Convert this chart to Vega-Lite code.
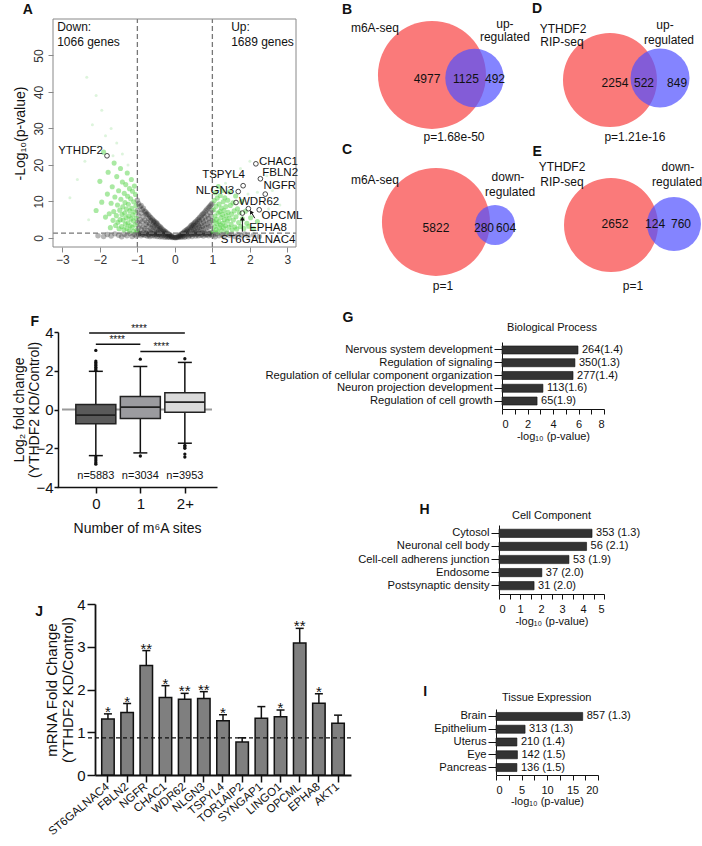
{
"$schema":"https://vega.github.io/schema/vega-lite/v6.json",
"width":702,"height":846,"autosize":{"type":"none"},"padding":0,"background":"white",
"config":{"view":{"stroke":null},"font":"Liberation Sans",
 "text":{"font":"Liberation Sans","fontSize":12,"color":"#111"},
 "axis":{"grid":false,"labelFont":"Liberation Sans","titleFont":"Liberation Sans","labelColor":"#111","titleColor":"#111","titleFontWeight":"normal","domainColor":"#111","tickColor":"#111","labelLimit":400}},
"resolve":{"scale":{"x":"independent","y":"independent","size":"independent","color":"independent"},"axis":{"x":"independent","y":"independent"}},
"datasets":{
"volcano":[
{"x":-1.0,"y":1.6,"s":"n"},{"x":-1.0,"y":4.2,"s":"n"},{"x":-1.0,"y":7.5,"s":"n"},{"x":-1.0,"y":10.3,"s":"n"},
{"x":-0.97,"y":0.9,"s":"n"},{"x":-0.97,"y":2.8,"s":"n"},{"x":-0.97,"y":6.1,"s":"n"},{"x":-0.97,"y":9.4,"s":"n"},
{"x":-0.93,"y":1.3,"s":"n"},{"x":-0.93,"y":3.6,"s":"n"},{"x":-0.93,"y":5.0,"s":"n"},{"x":-0.93,"y":8.6,"s":"n"},
{"x":-0.9,"y":0.6,"s":"n"},{"x":-0.9,"y":2.2,"s":"n"},{"x":-0.9,"y":6.8,"s":"n"},{"x":-0.9,"y":8.9,"s":"n"},
{"x":-0.87,"y":1.0,"s":"n"},{"x":-0.87,"y":4.4,"s":"n"},{"x":-0.87,"y":7.7,"s":"n"},
{"x":-0.84,"y":1.5,"s":"n"},{"x":-0.84,"y":3.0,"s":"n"},{"x":-0.84,"y":5.8,"s":"n"},{"x":-0.84,"y":8.1,"s":"n"},
{"x":-0.8,"y":0.7,"s":"n"},{"x":-0.8,"y":2.5,"s":"n"},{"x":-0.8,"y":4.9,"s":"n"},{"x":-0.8,"y":7.3,"s":"n"},
{"x":-0.77,"y":1.2,"s":"n"},{"x":-0.77,"y":3.7,"s":"n"},{"x":-0.77,"y":6.4,"s":"n"},{"x":-0.77,"y":7.0,"s":"n"},
{"x":-0.74,"y":0.5,"s":"n"},{"x":-0.74,"y":2.0,"s":"n"},{"x":-0.74,"y":4.3,"s":"n"},{"x":-0.74,"y":6.6,"s":"n"},
{"x":-0.7,"y":1.0,"s":"n"},{"x":-0.7,"y":3.1,"s":"n"},{"x":-0.7,"y":5.3,"s":"n"},{"x":-0.7,"y":6.3,"s":"n"},
{"x":-0.67,"y":0.4,"s":"n"},{"x":-0.67,"y":1.7,"s":"n"},{"x":-0.67,"y":3.9,"s":"n"},{"x":-0.67,"y":5.8,"s":"n"},
{"x":-0.64,"y":1.3,"s":"n"},{"x":-0.64,"y":2.6,"s":"n"},{"x":-0.64,"y":4.7,"s":"n"},{"x":-0.64,"y":5.5,"s":"n"},
{"x":-0.6,"y":0.6,"s":"n"},{"x":-0.6,"y":2.0,"s":"n"},{"x":-0.6,"y":3.5,"s":"n"},{"x":-0.6,"y":5.1,"s":"n"},
{"x":-0.57,"y":1.1,"s":"n"},{"x":-0.57,"y":2.9,"s":"n"},{"x":-0.57,"y":4.3,"s":"n"},{"x":-0.57,"y":4.8,"s":"n"},
{"x":-0.54,"y":0.5,"s":"n"},{"x":-0.54,"y":1.6,"s":"n"},{"x":-0.54,"y":3.3,"s":"n"},{"x":-0.54,"y":4.5,"s":"n"},
{"x":-0.5,"y":0.9,"s":"n"},{"x":-0.5,"y":2.4,"s":"n"},{"x":-0.5,"y":3.8,"s":"n"},{"x":-0.5,"y":4.2,"s":"n"},
{"x":-0.47,"y":0.4,"s":"n"},{"x":-0.47,"y":1.5,"s":"n"},{"x":-0.47,"y":2.8,"s":"n"},{"x":-0.47,"y":3.9,"s":"n"},
{"x":-0.44,"y":1.0,"s":"n"},{"x":-0.44,"y":2.1,"s":"n"},{"x":-0.44,"y":3.4,"s":"n"},
{"x":-0.4,"y":0.3,"s":"n"},{"x":-0.4,"y":1.4,"s":"n"},{"x":-0.4,"y":2.6,"s":"n"},{"x":-0.4,"y":3.1,"s":"n"},
{"x":-0.37,"y":0.8,"s":"n"},{"x":-0.37,"y":1.9,"s":"n"},{"x":-0.37,"y":2.8,"s":"n"},
{"x":-0.34,"y":0.3,"s":"n"},{"x":-0.34,"y":1.2,"s":"n"},{"x":-0.34,"y":2.4,"s":"n"},
{"x":-0.3,"y":0.7,"s":"n"},{"x":-0.3,"y":1.6,"s":"n"},{"x":-0.3,"y":2.1,"s":"n"},
{"x":-0.27,"y":0.2,"s":"n"},{"x":-0.27,"y":1.0,"s":"n"},{"x":-0.27,"y":1.8,"s":"n"},
{"x":-0.24,"y":0.5,"s":"n"},{"x":-0.24,"y":1.3,"s":"n"},{"x":-0.24,"y":1.6,"s":"n"},
{"x":-0.2,"y":0.2,"s":"n"},{"x":-0.2,"y":0.8,"s":"n"},{"x":-0.2,"y":1.3,"s":"n"},
{"x":-0.17,"y":0.4,"s":"n"},{"x":-0.17,"y":1.0,"s":"n"},
{"x":-0.14,"y":0.15,"s":"n"},{"x":-0.14,"y":0.7,"s":"n"},{"x":-0.14,"y":0.9,"s":"n"},
{"x":-0.1,"y":0.3,"s":"n"},{"x":-0.1,"y":0.6,"s":"n"},{"x":-0.07,"y":0.1,"s":"n"},{"x":-0.07,"y":0.4,"s":"n"},
{"x":-0.04,"y":0.2,"s":"n"},{"x":0.0,"y":0.05,"s":"n"},{"x":0.0,"y":0.2,"s":"n"},
{"x":0.03,"y":0.1,"s":"n"},{"x":0.06,"y":0.3,"s":"n"},{"x":0.06,"y":0.1,"s":"n"},
{"x":0.1,"y":0.2,"s":"n"},{"x":0.1,"y":0.5,"s":"n"},{"x":0.13,"y":0.4,"s":"n"},{"x":0.13,"y":0.8,"s":"n"},
{"x":0.16,"y":0.2,"s":"n"},{"x":0.16,"y":0.6,"s":"n"},{"x":0.16,"y":1.0,"s":"n"},
{"x":0.2,"y":0.3,"s":"n"},{"x":0.2,"y":0.9,"s":"n"},{"x":0.2,"y":1.2,"s":"n"},
{"x":0.23,"y":0.6,"s":"n"},{"x":0.23,"y":1.3,"s":"n"},{"x":0.23,"y":1.5,"s":"n"},
{"x":0.26,"y":0.2,"s":"n"},{"x":0.26,"y":1.0,"s":"n"},{"x":0.26,"y":1.8,"s":"n"},
{"x":0.3,"y":0.5,"s":"n"},{"x":0.3,"y":1.4,"s":"n"},{"x":0.3,"y":2.1,"s":"n"},
{"x":0.33,"y":0.9,"s":"n"},{"x":0.33,"y":1.8,"s":"n"},{"x":0.33,"y":2.3,"s":"n"},
{"x":0.36,"y":0.3,"s":"n"},{"x":0.36,"y":1.2,"s":"n"},{"x":0.36,"y":2.6,"s":"n"},
{"x":0.4,"y":0.7,"s":"n"},{"x":0.4,"y":1.9,"s":"n"},{"x":0.4,"y":2.9,"s":"n"},
{"x":0.43,"y":1.1,"s":"n"},{"x":0.43,"y":2.4,"s":"n"},{"x":0.43,"y":3.3,"s":"n"},
{"x":0.46,"y":0.4,"s":"n"},{"x":0.46,"y":1.6,"s":"n"},{"x":0.46,"y":3.0,"s":"n"},{"x":0.46,"y":3.6,"s":"n"},
{"x":0.5,"y":0.9,"s":"n"},{"x":0.5,"y":2.2,"s":"n"},{"x":0.5,"y":3.4,"s":"n"},{"x":0.5,"y":3.9,"s":"n"},
{"x":0.53,"y":1.4,"s":"n"},{"x":0.53,"y":2.7,"s":"n"},{"x":0.53,"y":4.2,"s":"n"},
{"x":0.56,"y":0.5,"s":"n"},{"x":0.56,"y":2.0,"s":"n"},{"x":0.56,"y":3.5,"s":"n"},{"x":0.56,"y":4.5,"s":"n"},
{"x":0.6,"y":1.1,"s":"n"},{"x":0.6,"y":2.6,"s":"n"},{"x":0.6,"y":4.0,"s":"n"},{"x":0.6,"y":4.9,"s":"n"},
{"x":0.63,"y":0.6,"s":"n"},{"x":0.63,"y":1.8,"s":"n"},{"x":0.63,"y":3.3,"s":"n"},{"x":0.63,"y":5.2,"s":"n"},
{"x":0.66,"y":1.3,"s":"n"},{"x":0.66,"y":2.9,"s":"n"},{"x":0.66,"y":4.6,"s":"n"},{"x":0.66,"y":5.6,"s":"n"},
{"x":0.7,"y":0.7,"s":"n"},{"x":0.7,"y":2.2,"s":"n"},{"x":0.7,"y":3.9,"s":"n"},{"x":0.7,"y":6.0,"s":"n"},
{"x":0.73,"y":1.5,"s":"n"},{"x":0.73,"y":3.2,"s":"n"},{"x":0.73,"y":5.1,"s":"n"},{"x":0.73,"y":6.4,"s":"n"},
{"x":0.76,"y":0.5,"s":"n"},{"x":0.76,"y":2.4,"s":"n"},{"x":0.76,"y":4.4,"s":"n"},{"x":0.76,"y":6.7,"s":"n"},
{"x":0.8,"y":1.2,"s":"n"},{"x":0.8,"y":3.6,"s":"n"},{"x":0.8,"y":5.7,"s":"n"},{"x":0.8,"y":7.1,"s":"n"},
{"x":0.83,"y":0.8,"s":"n"},{"x":0.83,"y":2.7,"s":"n"},{"x":0.83,"y":4.9,"s":"n"},{"x":0.83,"y":7.5,"s":"n"},
{"x":0.86,"y":1.6,"s":"n"},{"x":0.86,"y":3.9,"s":"n"},{"x":0.86,"y":6.3,"s":"n"},{"x":0.86,"y":7.9,"s":"n"},
{"x":0.9,"y":0.6,"s":"n"},{"x":0.9,"y":2.9,"s":"n"},{"x":0.9,"y":5.3,"s":"n"},{"x":0.9,"y":8.3,"s":"n"},
{"x":0.93,"y":1.3,"s":"n"},{"x":0.93,"y":4.3,"s":"n"},{"x":0.93,"y":6.9,"s":"n"},{"x":0.93,"y":8.7,"s":"n"},
{"x":0.96,"y":0.9,"s":"n"},{"x":0.96,"y":3.2,"s":"n"},{"x":0.96,"y":5.9,"s":"n"},{"x":0.96,"y":9.0,"s":"n"},
{"x":0.99,"y":1.5,"s":"n"},{"x":0.99,"y":4.7,"s":"n"},{"x":0.99,"y":7.6,"s":"n"},{"x":0.99,"y":9.4,"s":"n"},
{"x":-2.05,"y":0.6,"s":"n"},{"x":-1.9,"y":0.4,"s":"n"},{"x":-1.8,"y":0.9,"s":"n"},{"x":-1.7,"y":0.5,"s":"n"},{"x":-1.6,"y":1.1,"s":"n"},{"x":-1.5,"y":0.7,"s":"n"},{"x":-1.42,"y":0.3,"s":"n"},{"x":-1.35,"y":1.0,"s":"n"},{"x":-1.28,"y":0.6,"s":"n"},{"x":-1.2,"y":1.2,"s":"n"},{"x":-1.14,"y":0.4,"s":"n"},{"x":-1.08,"y":0.9,"s":"n"},{"x":-1.03,"y":0.5,"s":"n"},
{"x":1.03,"y":0.8,"s":"n"},{"x":1.07,"y":0.3,"s":"n"},{"x":1.12,"y":1.1,"s":"n"},{"x":1.18,"y":0.6,"s":"n"},{"x":1.25,"y":0.9,"s":"n"},{"x":1.31,"y":0.4,"s":"n"},{"x":1.38,"y":1.2,"s":"n"},{"x":1.45,"y":0.7,"s":"n"},{"x":1.52,"y":1.0,"s":"n"},{"x":1.6,"y":0.4,"s":"n"},{"x":1.68,"y":0.9,"s":"n"},{"x":1.77,"y":0.6,"s":"n"},{"x":1.86,"y":1.1,"s":"n"},{"x":1.95,"y":0.5,"s":"n"},{"x":2.1,"y":0.8,"s":"n"},{"x":2.25,"y":0.4,"s":"n"},
{"x":-0.95,"y":1.2,"s":"n"},{"x":-0.85,"y":0.9,"s":"n"},{"x":-0.78,"y":1.3,"s":"n"},{"x":-0.69,"y":0.8,"s":"n"},{"x":-0.62,"y":1.2,"s":"n"},{"x":-0.55,"y":1.0,"s":"n"},{"x":-0.48,"y":1.2,"s":"n"},{"x":-0.42,"y":0.9,"s":"n"},
{"x":0.44,"y":0.9,"s":"n"},{"x":0.52,"y":1.2,"s":"n"},{"x":0.58,"y":0.9,"s":"n"},{"x":0.65,"y":1.2,"s":"n"},{"x":0.72,"y":1.0,"s":"n"},{"x":0.79,"y":1.3,"s":"n"},{"x":0.85,"y":0.9,"s":"n"},{"x":0.92,"y":1.2,"s":"n"},{"x":0.98,"y":0.8,"s":"n"},
{"x":-1.02,"y":2.1,"s":"g"},{"x":-1.03,"y":5.4,"s":"g"},{"x":-1.04,"y":8.8,"s":"g"},{"x":-1.05,"y":11.9,"s":"g"},{"x":-1.06,"y":3.6,"s":"g"},{"x":-1.07,"y":7.1,"s":"g"},{"x":-1.08,"y":14.2,"s":"g"},{"x":-1.1,"y":1.8,"s":"g"},{"x":-1.1,"y":9.9,"s":"g"},{"x":-1.11,"y":4.7,"s":"g"},{"x":-1.12,"y":6.3,"s":"g"},{"x":-1.13,"y":12.8,"s":"g"},{"x":-1.14,"y":2.9,"s":"g"},{"x":-1.15,"y":8.1,"s":"g"},{"x":-1.16,"y":16.0,"s":"g"},{"x":-1.17,"y":5.2,"s":"g"},{"x":-1.18,"y":10.7,"s":"g"},{"x":-1.19,"y":3.3,"s":"g"},{"x":-1.2,"y":7.4,"s":"g"},{"x":-1.21,"y":13.5,"s":"g"},{"x":-1.22,"y":1.9,"s":"g"},{"x":-1.23,"y":6.0,"s":"g"},{"x":-1.24,"y":9.2,"s":"g"},{"x":-1.25,"y":4.1,"s":"g"},{"x":-1.26,"y":11.4,"s":"g"},{"x":-1.27,"y":17.8,"s":"g"},{"x":-1.28,"y":2.6,"s":"g"},{"x":-1.29,"y":7.9,"s":"g"},{"x":-1.3,"y":5.5,"s":"g"},{"x":-1.31,"y":14.6,"s":"g"},{"x":-1.32,"y":3.8,"s":"g"},{"x":-1.33,"y":9.7,"s":"g"},{"x":-1.34,"y":6.8,"s":"g"},{"x":-1.35,"y":12.2,"s":"g"},{"x":-1.36,"y":2.2,"s":"g"},{"x":-1.38,"y":4.9,"s":"g"},{"x":-1.39,"y":8.5,"s":"g"},{"x":-1.4,"y":15.3,"s":"g"},{"x":-1.41,"y":6.4,"s":"g"},{"x":-1.42,"y":3.1,"s":"g"},{"x":-1.44,"y":10.6,"s":"g"},{"x":-1.45,"y":19.0,"s":"g"},{"x":-1.46,"y":5.0,"s":"g"},{"x":-1.47,"y":7.6,"s":"g"},{"x":-1.49,"y":2.5,"s":"g"},{"x":-1.5,"y":12.9,"s":"g"},{"x":-1.52,"y":4.3,"s":"g"},{"x":-1.53,"y":9.0,"s":"g"},{"x":-1.55,"y":16.8,"s":"g"},{"x":-1.56,"y":6.1,"s":"g"},{"x":-1.58,"y":3.4,"s":"g"},{"x":-1.6,"y":11.2,"s":"g"},{"x":-1.62,"y":20.5,"s":"g"},{"x":-1.63,"y":7.2,"s":"g"},{"x":-1.65,"y":4.8,"s":"g"},{"x":-1.67,"y":14.0,"s":"g"},{"x":-1.7,"y":9.5,"s":"g"},{"x":-1.72,"y":2.8,"s":"g"},{"x":-1.75,"y":6.6,"s":"g"},{"x":-1.78,"y":18.0,"s":"g"},{"x":-1.8,"y":12.0,"s":"g"},{"x":-1.85,"y":5.7,"s":"g"},{"x":-1.9,"y":23.5,"s":"g"},{"x":-1.95,"y":9.8,"s":"g"},{"x":-2.0,"y":15.5,"s":"g"},{"x":-2.1,"y":7.5,"s":"g"},
{"x":1.02,"y":1.8,"s":"g"},{"x":1.03,"y":4.6,"s":"g"},{"x":1.04,"y":7.7,"s":"g"},{"x":1.05,"y":10.2,"s":"g"},{"x":1.06,"y":3.1,"s":"g"},{"x":1.07,"y":6.0,"s":"g"},{"x":1.08,"y":12.4,"s":"g"},{"x":1.1,"y":2.3,"s":"g"},{"x":1.1,"y":8.7,"s":"g"},{"x":1.11,"y":5.1,"s":"g"},{"x":1.12,"y":3.9,"s":"g"},{"x":1.13,"y":10.9,"s":"g"},{"x":1.14,"y":1.6,"s":"g"},{"x":1.15,"y":6.8,"s":"g"},{"x":1.16,"y":14.1,"s":"g"},{"x":1.17,"y":4.4,"s":"g"},{"x":1.18,"y":9.3,"s":"g"},{"x":1.19,"y":2.8,"s":"g"},{"x":1.2,"y":7.2,"s":"g"},{"x":1.21,"y":11.6,"s":"g"},{"x":1.22,"y":3.5,"s":"g"},{"x":1.23,"y":5.6,"s":"g"},{"x":1.24,"y":8.2,"s":"g"},{"x":1.25,"y":2.0,"s":"g"},{"x":1.26,"y":13.0,"s":"g"},{"x":1.27,"y":6.4,"s":"g"},{"x":1.28,"y":4.0,"s":"g"},{"x":1.29,"y":9.9,"s":"g"},{"x":1.3,"y":2.7,"s":"g"},{"x":1.31,"y":7.5,"s":"g"},{"x":1.32,"y":5.0,"s":"g"},{"x":1.33,"y":11.0,"s":"g"},{"x":1.35,"y":3.3,"s":"g"},{"x":1.36,"y":8.6,"s":"g"},{"x":1.37,"y":6.1,"s":"g"},{"x":1.38,"y":1.7,"s":"g"},{"x":1.4,"y":4.6,"s":"g"},{"x":1.41,"y":10.3,"s":"g"},{"x":1.42,"y":7.0,"s":"g"},{"x":1.44,"y":2.9,"s":"g"},{"x":1.45,"y":5.4,"s":"g"},{"x":1.46,"y":12.6,"s":"g"},{"x":1.48,"y":8.9,"s":"g"},{"x":1.5,"y":3.7,"s":"g"},{"x":1.51,"y":6.5,"s":"g"},{"x":1.53,"y":2.2,"s":"g"},{"x":1.55,"y":9.6,"s":"g"},{"x":1.56,"y":4.9,"s":"g"},{"x":1.58,"y":7.4,"s":"g"},{"x":1.6,"y":3.0,"s":"g"},{"x":1.62,"y":11.5,"s":"g"},{"x":1.63,"y":5.8,"s":"g"},{"x":1.65,"y":2.4,"s":"g"},{"x":1.67,"y":8.0,"s":"g"},{"x":1.7,"y":4.2,"s":"g"},{"x":1.72,"y":6.9,"s":"g"},{"x":1.75,"y":3.1,"s":"g"},{"x":1.78,"y":10.0,"s":"g"},{"x":1.8,"y":5.2,"s":"g"},{"x":1.84,"y":2.6,"s":"g"},{"x":1.88,"y":7.3,"s":"g"},{"x":1.92,"y":4.0,"s":"g"},{"x":1.97,"y":3.2,"s":"g"},{"x":2.02,"y":5.5,"s":"g"},{"x":2.1,"y":2.5,"s":"g"},{"x":2.2,"y":4.5,"s":"g"},
{"x":-2.35,"y":44,"s":"f"},{"x":-2.1,"y":39,"s":"f"},{"x":-1.95,"y":35,"s":"f"},{"x":-2.2,"y":31,"s":"f"},{"x":-1.7,"y":30,"s":"f"},{"x":-1.85,"y":28,"s":"f"},{"x":-1.55,"y":26,"s":"f"},{"x":-2.05,"y":25,"s":"f"},{"x":-1.4,"y":23,"s":"f"},{"x":-1.65,"y":22.5,"s":"f"},{"x":-2.4,"y":21,"s":"f"},{"x":-1.25,"y":20,"s":"f"},{"x":-2.6,"y":16,"s":"f"},{"x":-2.8,"y":11,"s":"f"},{"x":2.0,"y":21,"s":"f"},{"x":1.75,"y":19,"s":"f"},{"x":2.45,"y":17,"s":"f"},{"x":1.55,"y":17.5,"s":"f"},{"x":2.6,"y":13,"s":"f"},{"x":1.35,"y":15,"s":"f"},{"x":2.2,"y":12.5,"s":"f"},{"x":1.95,"y":12,"s":"f"},{"x":2.8,"y":9,"s":"f"},{"x":2.5,"y":8,"s":"f"},{"x":-2.3,"y":5,"s":"f"}
],
"vcircles":[{"x":-1.81,"y":22.5},{"x":2.16,"y":20.3},{"x":2.28,"y":16.2},{"x":2.41,"y":12.0},{"x":1.82,"y":14.3},{"x":1.69,"y":12.7},{"x":1.63,"y":9.7},{"x":1.96,"y":8.0},{"x":2.25,"y":7.7},{"x":1.8,"y":6.8}],
"vlabels":[{"g":"YTHDF2","x":-1.92,"y":23.9,"side":"r"},{"g":"TSPYL4","x":1.87,"y":17.3,"side":"r"},{"g":"NLGN3","x":1.58,"y":12.9,"side":"r"},{"g":"CHAC1","x":2.24,"y":20.7,"side":"l"},{"g":"FBLN2","x":2.33,"y":17.7,"side":"l"},{"g":"NGFR","x":2.36,"y":14.3,"side":"l"},{"g":"WDR62","x":1.71,"y":9.8,"side":"l"},{"g":"OPCML","x":2.31,"y":5.9,"side":"l"},{"g":"EPHA8","x":1.98,"y":2.8,"side":"l"},{"g":"ST6GALNAC4","x":1.22,"y":-0.7,"side":"l"}],
"vguides":[{"x":-1,"x2":-1,"y":-2.5,"y2":60},{"x":1,"x2":1,"y":-2.5,"y2":60},{"x":-3.25,"x2":3.23,"y":1.3,"y2":1.3}],
"varrows":[{"x":1.8,"x2":1.8,"y":1.7,"y2":5.0},{"x":2.13,"x2":2.05,"y":5.4,"y2":6.8}],
"vtext":[{"t":"Down:","x":-3.14,"y":57.9},{"t":"1066 genes","x":-3.14,"y":53.7},{"t":"Up:","x":1.5,"y":57.9},{"t":"1689 genes","x":1.5,"y":53.7}],
"vennB":[{"set":"a","n":6102,"x":4.84,"y":4.83},{"set":"b","n":1617,"x":7.08,"y":4.62}],
"vennBt":[{"t":"m6A-seq","x":1.84,"y":8.07},{"t":"up-","x":8.68,"y":8.34},{"t":"regulated","x":8.68,"y":7.45},{"t":"4977","x":4.58,"y":4.55},{"t":"1125","x":6.63,"y":4.55},{"t":"492","x":8.16,"y":4.55},{"t":"p=1.68e-50","x":6.0,"y":0.55}],
"vennC":[{"set":"a","n":6102,"x":5.05,"y":4.87},{"set":"b","n":884,"x":8.16,"y":4.67}],
"vennCt":[{"t":"m6A-seq","x":1.84,"y":7.67},{"t":"down-","x":8.84,"y":7.87},{"t":"regulated","x":8.95,"y":6.87},{"t":"5822","x":5.05,"y":4.47},{"t":"280","x":7.58,"y":4.47},{"t":"604","x":8.74,"y":4.47},{"t":"p=1","x":5.42,"y":0.6}],
"vennD":[{"set":"a","n":2776,"x":4.65,"y":4.48},{"set":"b","n":1371,"x":7.56,"y":4.62}],
"vennDt":[{"t":"YTHDF2","x":1.92,"y":8.0},{"t":"RIP-seq","x":1.86,"y":7.1},{"t":"up-","x":7.85,"y":8.28},{"t":"regulated","x":8.08,"y":7.24},{"t":"2254","x":4.94,"y":4.28},{"t":"522","x":6.63,"y":4.28},{"t":"849","x":8.55,"y":4.28},{"t":"p=1.21e-16","x":6.1,"y":0.55}],
"vennE":[{"set":"a","n":2776,"x":4.71,"y":4.67},{"set":"b","n":884,"x":8.37,"y":4.73}],
"vennEt":[{"t":"YTHDF2","x":1.86,"y":8.53},{"t":"RIP-seq","x":1.86,"y":7.53},{"t":"down-","x":8.6,"y":8.53},{"t":"regulated","x":8.55,"y":7.53},{"t":"2652","x":4.94,"y":4.73},{"t":"124","x":7.27,"y":4.73},{"t":"760","x":8.78,"y":4.73},{"t":"p=1","x":5.99,"y":0.6}],
"boxes":[{"g":0,"lo":-2.38,"q1":-0.74,"med":-0.29,"q3":0.26,"hi":1.97,"n":"n=5883"},{"g":1,"lo":-2.24,"q1":-0.47,"med":0.12,"q3":0.67,"hi":2.22,"n":"n=3034"},{"g":2,"lo":-1.74,"q1":-0.14,"med":0.38,"q3":0.87,"hi":2.43,"n":"n=3953"}],
"outliers":[{"g":0,"v":3.05},{"g":0,"v":2.5},{"g":0,"v":2.42},{"g":0,"v":2.35},{"g":0,"v":2.27},{"g":0,"v":2.18},{"g":0,"v":2.1},{"g":0,"v":2.03},{"g":0,"v":-2.45},{"g":0,"v":-2.55},{"g":0,"v":-2.65},{"g":0,"v":-2.75},{"g":0,"v":-2.82},{"g":1,"v":2.6},{"g":1,"v":-2.4},{"g":2,"v":2.62},{"g":2,"v":-1.85},{"g":2,"v":-1.92},{"g":2,"v":-2.0},{"g":2,"v":-2.3},{"g":2,"v":-2.45}],
"sigF":[{"a":-0.15,"b":2,"y":3.95,"m":0.97},{"a":0,"b":1,"y":3.37,"m":0.48},{"a":1,"b":2,"y":3.0,"m":1.47}],
"bp":[{"term":"Nervous system development","v":5.96,"lab":"264(1.4)"},{"term":"Regulation of signaling","v":5.72,"lab":"350(1.3)"},{"term":"Regulation of cellular component organization","v":5.57,"lab":"277(1.4)"},{"term":"Neuron projection development","v":3.21,"lab":"113(1.6)"},{"term":"Regulation of cell growth","v":2.75,"lab":"65(1.9)"}],
"cc":[{"term":"Cytosol","v":4.43,"lab":"353 (1.3)"},{"term":"Neuronal cell body","v":4.17,"lab":"56 (2.1)"},{"term":"Cell-cell adherens junction","v":3.33,"lab":"53 (1.9)"},{"term":"Endosome","v":2.04,"lab":"37 (2.0)"},{"term":"Postsynaptic density","v":1.67,"lab":"31 (2.0)"}],
"te":[{"term":"Brain","v":17.0,"lab":"857 (1.3)"},{"term":"Epithelium","v":5.7,"lab":"313 (1.3)"},{"term":"Uterus","v":4.1,"lab":"210 (1.4)"},{"term":"Eye","v":4.2,"lab":"142 (1.5)"},{"term":"Pancreas","v":4.1,"lab":"136 (1.5)"}],
"qpcr":[{"gene":"ST6GALNAC4","v":1.31,"e":1.43,"sig":"*"},{"gene":"FBLN2","v":1.46,"e":1.67,"sig":"*"},{"gene":"NGFR","v":2.56,"e":2.91,"sig":"**"},{"gene":"CHAC1","v":1.81,"e":2.09,"sig":"*"},{"gene":"WDR62","v":1.77,"e":1.91,"sig":"**"},{"gene":"NLGN3","v":1.79,"e":1.95,"sig":"**"},{"gene":"TSPYL4","v":1.27,"e":1.41,"sig":"*"},{"gene":"TOR1AIP2","v":0.77,"e":0.87,"sig":""},{"gene":"SYNGAP1","v":1.33,"e":1.6,"sig":""},{"gene":"LINGO1","v":1.36,"e":1.52,"sig":"*"},{"gene":"OPCML","v":3.09,"e":3.43,"sig":"**"},{"gene":"EPHA8","v":1.68,"e":1.9,"sig":"*"},{"gene":"AKT1","v":1.21,"e":1.4,"sig":""}]
},
"layer":[
{"layer":[
 {"data":{"name":"volcano"},"transform":[{"filter":"datum.s == 'n'"}],"mark":{"type":"circle","size":30,"color":"#222","opacity":0.33},
  "encoding":{
   "x":{"field":"x","type":"quantitative","scale":{"domain":[-3.25,3.23],"range":[53,296],"nice":false,"zero":false},
    "axis":{"orient":"bottom","offset":-599,"values":[-3,-2,-1,0,1,2,3],"format":"~g","title":null,"labelFontSize":12,"tickSize":5,"labelPadding":2,"domain":false,"tickColor":"#888","labelColor":"#333"}},
   "y":{"field":"y","type":"quantitative","scale":{"domain":[-2.5,60],"range":[247,19],"nice":false,"zero":false},
    "axis":{"orient":"left","offset":-53,"values":[0,10,20,30,40,50],"format":"~g","title":"-Log₁₀(p-value)","titleFontSize":14,"labelFontSize":12,"labelAngle":-90,"labelAlign":"center","labelBaseline":"bottom","tickSize":5,"labelPadding":3,"titlePadding":5,"domain":false,"tickColor":"#888","labelColor":"#333"}}}},
 {"data":{"name":"volcano"},"transform":[{"filter":"datum.s == 'g'"}],"mark":{"type":"circle","size":26,"color":"#55d448","opacity":0.5},
  "encoding":{"x":{"field":"x","type":"quantitative"},"y":{"field":"y","type":"quantitative"}}},
 {"data":{"name":"volcano"},"transform":[{"filter":"datum.s == 'f'"}],"mark":{"type":"circle","size":9,"color":"#8fd98a","opacity":0.3},
  "encoding":{"x":{"field":"x","type":"quantitative"},"y":{"field":"y","type":"quantitative"}}},
 {"data":{"name":"vguides"},"mark":{"type":"rule","color":"#777","strokeDash":[5,3],"strokeWidth":1.3},
  "encoding":{"x":{"field":"x","type":"quantitative"},"x2":{"field":"x2"},"y":{"field":"y","type":"quantitative"},"y2":{"field":"y2"}}},
 {"data":{"values":[{}]},"mark":{"type":"rect","filled":false,"stroke":"#888","strokeWidth":1},
  "encoding":{"x":{"datum":-3.25},"x2":{"datum":3.23},"y":{"datum":-2.5},"y2":{"datum":60}}},
 {"data":{"name":"vcircles"},"mark":{"type":"point","shape":"circle","filled":false,"size":22,"stroke":"#333","strokeWidth":0.9,"opacity":1},
  "encoding":{"x":{"field":"x","type":"quantitative"},"y":{"field":"y","type":"quantitative"}}},
 {"data":{"name":"varrows"},"mark":{"type":"rule","color":"#111","strokeWidth":1},
  "encoding":{"x":{"field":"x","type":"quantitative"},"x2":{"field":"x2"},"y":{"field":"y","type":"quantitative"},"y2":{"field":"y2"}}},
 {"data":{"values":[{}]},"mark":{"type":"point","shape":"triangle-up","filled":true,"size":22,"color":"#111","opacity":1},
  "encoding":{"x":{"datum":1.8},"y":{"datum":5.3}}},
 {"data":{"values":[{}]},"mark":{"type":"point","shape":"triangle-up","filled":true,"size":20,"color":"#111","opacity":1,"angle":-30},
  "encoding":{"x":{"datum":2.03},"y":{"datum":7.1}}},
 {"data":{"name":"vlabels"},"transform":[{"filter":"datum.side == 'r'"}],"mark":{"type":"text","align":"right","fontSize":11.5},
  "encoding":{"x":{"field":"x","type":"quantitative"},"y":{"field":"y","type":"quantitative"},"text":{"field":"g"}}},
 {"data":{"name":"vlabels"},"transform":[{"filter":"datum.side == 'l'"}],"mark":{"type":"text","align":"left","fontSize":11.5},
  "encoding":{"x":{"field":"x","type":"quantitative"},"y":{"field":"y","type":"quantitative"},"text":{"field":"g"}}},
 {"data":{"name":"vtext"},"mark":{"type":"text","align":"left","fontSize":12},
  "encoding":{"x":{"field":"x","type":"quantitative"},"y":{"field":"y","type":"quantitative"},"text":{"field":"t"}}},
 {"data":{"values":[{}]},"mark":{"type":"text","fontSize":14,"fontWeight":"bold"},
  "encoding":{"x":{"datum":-3.92},"y":{"datum":62.5},"text":{"value":"A"}}}
]},
{"layer":[
 {"data":{"name":"vennB"},"mark":{"type":"point","shape":"circle","filled":true,"opacity":1,"strokeWidth":0},
  "encoding":{"x":{"field":"x","type":"quantitative","scale":{"domain":[0,10],"range":[340,530],"nice":false,"zero":false},"axis":null},
   "y":{"field":"y","type":"quantitative","scale":{"domain":[0,10],"range":[145,0],"nice":false,"zero":false},"axis":null},
   "size":{"field":"n","type":"quantitative","scale":{"domain":[1617,6102],"range":[3422,11664],"zero":false,"nice":false},"legend":null},
   "color":{"field":"set","type":"nominal","scale":{"domain":["a","b"],"range":["#fa7a7a","rgba(80,80,255,0.7)"]},"legend":null}}},
 {"data":{"name":"vennBt"},"mark":{"type":"text","fontSize":12},
  "encoding":{"x":{"field":"x","type":"quantitative","axis":null},"y":{"field":"y","type":"quantitative","axis":null},"text":{"field":"t"}}},
 {"data":{"values":[{}]},"mark":{"type":"text","fontSize":14,"fontWeight":"bold"},
  "encoding":{"x":{"datum":0.37,"axis":null},"y":{"datum":9.31,"axis":null},"text":{"value":"B"}}}
]},
{"layer":[
 {"data":{"name":"vennC"},"mark":{"type":"point","shape":"circle","filled":true,"opacity":1,"strokeWidth":0},
  "encoding":{"x":{"field":"x","type":"quantitative","scale":{"domain":[0,10],"range":[340,530],"nice":false,"zero":false},"axis":null},
   "y":{"field":"y","type":"quantitative","scale":{"domain":[0,10],"range":[295,145],"nice":false,"zero":false},"axis":null},
   "size":{"field":"n","type":"quantitative","scale":{"domain":[884,6102],"range":[1600,11664],"zero":false,"nice":false},"legend":null},
   "color":{"field":"set","type":"nominal","scale":{"domain":["a","b"],"range":["#fa7a7a","rgba(80,80,255,0.7)"]},"legend":null}}},
 {"data":{"name":"vennCt"},"mark":{"type":"text","fontSize":12},
  "encoding":{"x":{"field":"x","type":"quantitative","axis":null},"y":{"field":"y","type":"quantitative","axis":null},"text":{"field":"t"}}},
 {"data":{"values":[{}]},"mark":{"type":"text","fontSize":14,"fontWeight":"bold"},
  "encoding":{"x":{"datum":0.37,"axis":null},"y":{"datum":9.67,"axis":null},"text":{"value":"C"}}}
]},
{"layer":[
 {"data":{"name":"vennD"},"mark":{"type":"point","shape":"circle","filled":true,"opacity":1,"strokeWidth":0},
  "encoding":{"x":{"field":"x","type":"quantitative","scale":{"domain":[0,10],"range":[530,702],"nice":false,"zero":false},"axis":null},
   "y":{"field":"y","type":"quantitative","scale":{"domain":[0,10],"range":[145,0],"nice":false,"zero":false},"axis":null},
   "size":{"field":"n","type":"quantitative","scale":{"domain":[1371,2776],"range":[3481,8836],"zero":false,"nice":false},"legend":null},
   "color":{"field":"set","type":"nominal","scale":{"domain":["a","b"],"range":["#fa7a7a","rgba(80,80,255,0.7)"]},"legend":null}}},
 {"data":{"name":"vennDt"},"mark":{"type":"text","fontSize":12},
  "encoding":{"x":{"field":"x","type":"quantitative","axis":null},"y":{"field":"y","type":"quantitative","axis":null},"text":{"field":"t"}}},
 {"data":{"values":[{}]},"mark":{"type":"text","fontSize":14,"fontWeight":"bold"},
  "encoding":{"x":{"datum":0.41,"axis":null},"y":{"datum":9.38,"axis":null},"text":{"value":"D"}}}
]},
{"layer":[
 {"data":{"name":"vennE"},"mark":{"type":"point","shape":"circle","filled":true,"opacity":1,"strokeWidth":0},
  "encoding":{"x":{"field":"x","type":"quantitative","scale":{"domain":[0,10],"range":[530,702],"nice":false,"zero":false},"axis":null},
   "y":{"field":"y","type":"quantitative","scale":{"domain":[0,10],"range":[295,145],"nice":false,"zero":false},"axis":null},
   "size":{"field":"n","type":"quantitative","scale":{"domain":[884,2776],"range":[2916,8836],"zero":false,"nice":false},"legend":null},
   "color":{"field":"set","type":"nominal","scale":{"domain":["a","b"],"range":["#fa7a7a","rgba(80,80,255,0.7)"]},"legend":null}}},
 {"data":{"name":"vennEt"},"mark":{"type":"text","fontSize":12},
  "encoding":{"x":{"field":"x","type":"quantitative","axis":null},"y":{"field":"y","type":"quantitative","axis":null},"text":{"field":"t"}}},
 {"data":{"values":[{}]},"mark":{"type":"text","fontSize":14,"fontWeight":"bold"},
  "encoding":{"x":{"datum":0.41,"axis":null},"y":{"datum":9.53,"axis":null},"text":{"value":"E"}}}
]},
{"layer":[
 {"data":{"values":[{}]},"mark":{"type":"rule","color":"#9a9a9a","strokeWidth":2},
  "encoding":{"x":{"datum":-0.76,"scale":{"domain":[-0.76,2.61],"range":[57,217],"nice":false,"zero":false},
    "axis":{"orient":"bottom","offset":-359,"values":[0,1,2],"format":"~g","labelExpr":"datum.value == 2 ? '2+' : datum.label","title":"Number of m⁶A sites","labelFontSize":15,"titleFontSize":14,"tickSize":6,"labelPadding":3,"titlePadding":10,"domainWidth":1.5,"tickWidth":1.5}},
   "x2":{"datum":2.61},
   "y":{"datum":0,"scale":{"domain":[-4,4],"range":[487,332],"nice":false,"zero":false},
    "axis":{"orient":"left","offset":-58,"values":[-4,-2,0,2,4],"format":"~g","title":["Log₂ fold change","(YTHDF2 KD/Control)"],"labelFontSize":15,"titleFontSize":14,"titleLineHeight":15,"tickSize":4,"labelPadding":1,"titlePadding":-6,"domainWidth":1.5,"tickWidth":1.5}}}},
 {"data":{"name":"boxes"},"mark":{"type":"rule","color":"#111","strokeWidth":1.5},
  "encoding":{"x":{"field":"g","type":"quantitative"},"y":{"field":"lo","type":"quantitative"},"y2":{"field":"hi"}}},
 {"data":{"name":"boxes"},"mark":{"type":"tick","orient":"horizontal","size":14,"thickness":1.5,"color":"#111","opacity":1},
  "encoding":{"x":{"field":"g","type":"quantitative"},"y":{"field":"lo","type":"quantitative"}}},
 {"data":{"name":"boxes"},"mark":{"type":"tick","orient":"horizontal","size":14,"thickness":1.5,"color":"#111","opacity":1},
  "encoding":{"x":{"field":"g","type":"quantitative"},"y":{"field":"hi","type":"quantitative"}}},
 {"data":{"name":"boxes"},"mark":{"type":"bar","size":40,"stroke":"#222","strokeWidth":1.5},
  "encoding":{"x":{"field":"g","type":"quantitative"},"y":{"field":"q1","type":"quantitative"},"y2":{"field":"q3"},
   "color":{"field":"g","type":"nominal","scale":{"domain":[0,1,2],"range":["#5a5a5a","#9b9b9f","#dadada"]},"legend":null}}},
 {"data":{"name":"boxes"},"mark":{"type":"tick","orient":"horizontal","size":40,"thickness":1.8,"color":"#222","opacity":1},
  "encoding":{"x":{"field":"g","type":"quantitative"},"y":{"field":"med","type":"quantitative"}}},
 {"data":{"name":"outliers"},"mark":{"type":"circle","size":11,"color":"#111","opacity":1},
  "encoding":{"x":{"field":"g","type":"quantitative"},"y":{"field":"v","type":"quantitative"}}},
 {"data":{"name":"sigF"},"mark":{"type":"rule","color":"#111","strokeWidth":1.5},
  "encoding":{"x":{"field":"a","type":"quantitative"},"x2":{"field":"b"},"y":{"field":"y","type":"quantitative"}}},
 {"data":{"name":"sigF"},"mark":{"type":"text","fontSize":10,"baseline":"alphabetic","dy":-1,"text":"****"},
  "encoding":{"x":{"field":"m","type":"quantitative"},"y":{"field":"y","type":"quantitative"}}},
 {"data":{"name":"boxes"},"mark":{"type":"text","fontSize":11},
  "encoding":{"x":{"field":"g","type":"quantitative"},"y":{"datum":-3.44},"text":{"field":"n"}}},
 {"data":{"values":[{}]},"mark":{"type":"text","fontSize":14,"fontWeight":"bold"},
  "encoding":{"x":{"datum":-1.37},"y":{"datum":4.52},"text":{"value":"F"}}}
]},
{"data":{"name":"bp"},"layer":[
 {"mark":{"type":"bar","color":"#333","stroke":"#111","strokeWidth":0.6},
  "encoding":{"y":{"field":"term","type":"nominal","sort":null,"scale":{"domain":["Nervous system development","Regulation of signaling","Regulation of cellular component organization","Neuron projection development","Regulation of cell growth"],"range":[342,409],"paddingInner":0.37,"paddingOuter":0.31},
    "axis":{"orient":"left","offset":-502,"title":null,"labelFontSize":11.2,"tickSize":8,"labelPadding":2}},
   "x":{"field":"v","type":"quantitative","scale":{"domain":[0,8],"range":[502,604],"nice":false},
    "axis":{"orient":"bottom","offset":-437,"values":[0,1,2,3,4,5,6,7,8],"format":"~g","labelExpr":"datum.value % 2 == 0 ? datum.label : ''","title":"-log₁₀ (p-value)","labelFontSize":11,"titleFontSize":11,"tickSize":5,"labelPadding":4,"titlePadding":1}}}},
 {"mark":{"type":"text","align":"left","dx":4,"fontSize":11},
  "encoding":{"y":{"field":"term","type":"nominal","sort":null},"x":{"field":"v","type":"quantitative"},"text":{"field":"lab"}}},
 {"data":{"values":[{}]},"mark":{"type":"text","fontSize":11,"dy":-22},
  "encoding":{"x":{"datum":3.92},"y":{"datum":"Nervous system development"},"text":{"value":"Biological Process"}}},
 {"data":{"values":[{}]},"mark":{"type":"text","fontSize":14,"fontWeight":"bold","dy":-32},
  "encoding":{"x":{"datum":-12.08},"y":{"datum":"Nervous system development"},"text":{"value":"G"}}}
]},
{"data":{"name":"cc"},"layer":[
 {"mark":{"type":"bar","color":"#333","stroke":"#111","strokeWidth":0.6},
  "encoding":{"y":{"field":"term","type":"nominal","sort":null,"scale":{"domain":["Cytosol","Neuronal cell body","Cell-cell adherens junction","Endosome","Postsynaptic density"],"range":[525,594],"paddingInner":0.37,"paddingOuter":0.32},
    "axis":{"orient":"left","offset":-499,"title":null,"labelFontSize":11.2,"tickSize":8,"labelPadding":2}},
   "x":{"field":"v","type":"quantitative","scale":{"domain":[0,5],"range":[499,604],"nice":false},
    "axis":{"orient":"bottom","offset":-252,"values":[0,0.5,1,1.5,2,2.5,3,3.5,4,4.5,5],"format":"~g","labelExpr":"datum.value % 1 == 0 ? datum.label : ''","title":"-log₁₀ (p-value)","labelFontSize":11,"titleFontSize":11,"tickSize":5,"labelPadding":4,"titlePadding":1}}}},
 {"mark":{"type":"text","align":"left","dx":4,"fontSize":11},
  "encoding":{"y":{"field":"term","type":"nominal","sort":null},"x":{"field":"v","type":"quantitative"},"text":{"field":"lab"}}},
 {"data":{"values":[{}]},"mark":{"type":"text","fontSize":11,"dy":-17},
  "encoding":{"x":{"datum":2.5},"y":{"datum":"Cytosol"},"text":{"value":"Cell Component"}}},
 {"data":{"values":[{}]},"mark":{"type":"text","fontSize":14,"fontWeight":"bold","dy":-23},
  "encoding":{"x":{"datum":-3.54},"y":{"datum":"Cytosol"},"text":{"value":"H"}}}
]},
{"data":{"name":"te"},"layer":[
 {"mark":{"type":"bar","color":"#333","stroke":"#111","strokeWidth":0.6},
  "encoding":{"y":{"field":"term","type":"nominal","sort":null,"scale":{"domain":["Brain","Epithelium","Uterus","Eye","Pancreas"],"range":[709,775],"paddingInner":0.37,"paddingOuter":0.27},
    "axis":{"orient":"left","offset":-496,"title":null,"labelFontSize":11.2,"tickSize":8,"labelPadding":2}},
   "x":{"field":"v","type":"quantitative","scale":{"domain":[0,20],"range":[496,598],"nice":false},
    "axis":{"orient":"bottom","offset":-71,"values":[0,2.5,5,7.5,10,12.5,15,17.5,20],"format":"~g","labelExpr":"datum.value % 5 == 0 ? datum.label : ''","title":"-log₁₀ (p-value)","labelFontSize":11,"titleFontSize":11,"tickSize":5,"labelPadding":4,"titlePadding":0}}}},
 {"mark":{"type":"text","align":"left","dx":4,"fontSize":11},
  "encoding":{"y":{"field":"term","type":"nominal","sort":null},"x":{"field":"v","type":"quantitative"},"text":{"field":"lab"}}},
 {"data":{"values":[{}]},"mark":{"type":"text","fontSize":11,"dy":-18},
  "encoding":{"x":{"datum":9.94},"y":{"datum":"Brain"},"text":{"value":"Tissue Expression"}}},
 {"data":{"values":[{}]},"mark":{"type":"text","fontSize":14,"fontWeight":"bold","dy":-24},
  "encoding":{"x":{"datum":-13.9},"y":{"datum":"Brain"},"text":{"value":"I"}}}
]},
{"resolve":{"scale":{"x":"independent"},"axis":{"x":"independent"}},
 "layer":[
 {"data":{"name":"qpcr"},"layer":[
  {"mark":{"type":"bar","color":"#7f7f7f","stroke":"#111","strokeWidth":1.5},
   "encoding":{"x":{"field":"gene","type":"nominal","sort":null,"scale":{"domain":["ST6GALNAC4","FBLN2","NGFR","CHAC1","WDR62","NLGN3","TSPYL4","TOR1AIP2","SYNGAP1","LINGO1","OPCML","EPHA8","AKT1"],"range":[95,351],"paddingInner":0.35,"paddingOuter":0.35},
     "axis":{"orient":"bottom","offset":-71,"title":null,"labelAngle":-40,"labelAlign":"right","labelBaseline":"middle","labelFontSize":11.5,"tickSize":7,"labelPadding":3,"domainWidth":1.8,"tickWidth":1.5}},
    "y":{"field":"v","type":"quantitative","scale":{"domain":[0,4],"range":[775,604],"nice":false,"zero":false},
     "axis":{"orient":"left","offset":-95,"values":[0,1,2,3,4],"format":"~g","title":["mRNA Fold Change","(YTHDF2 KD/Control)"],"labelFontSize":15,"titleFontSize":15,"titleLineHeight":16,"tickSize":8,"labelPadding":2,"titlePadding":1,"domainWidth":1.8,"tickWidth":1.5}}}},
  {"mark":{"type":"rule","color":"#111","strokeWidth":1.5},
   "encoding":{"x":{"field":"gene","type":"nominal","sort":null},"y":{"field":"v","type":"quantitative"},"y2":{"field":"e"}}},
  {"mark":{"type":"tick","orient":"horizontal","size":8,"thickness":1.5,"color":"#111","opacity":1},
   "encoding":{"x":{"field":"gene","type":"nominal","sort":null},"y":{"field":"e","type":"quantitative"}}},
  {"mark":{"type":"text","fontSize":15,"baseline":"alphabetic","dy":3},
   "encoding":{"x":{"field":"gene","type":"nominal","sort":null},"y":{"field":"e","type":"quantitative"},"text":{"field":"sig"}}}
 ]},
 {"data":{"values":[{}]},"layer":[
  {"mark":{"type":"rule","color":"#111","strokeDash":[4,3],"strokeWidth":1.3},
   "encoding":{"x":{"datum":0,"scale":{"domain":[0,1],"range":[88,351],"nice":false,"zero":false},"axis":null},"x2":{"datum":1},"y":{"datum":0.87}}},
  {"mark":{"type":"text","fontSize":14,"fontWeight":"bold"},
   "encoding":{"x":{"datum":-0.186,"axis":null},"y":{"datum":3.81},"text":{"value":"J"}}}
 ]}
]}
]
}
